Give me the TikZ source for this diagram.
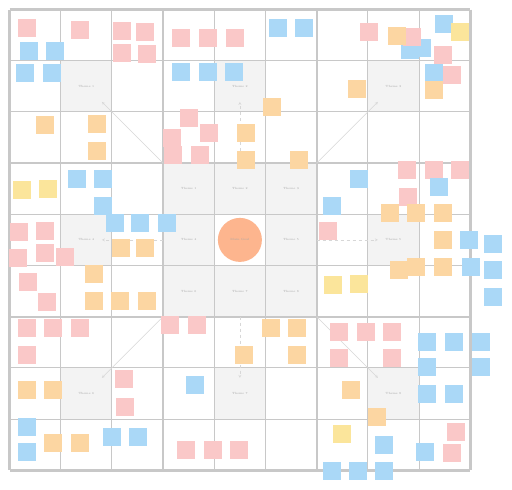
\documentclass[tikz,border=0pt]{standalone}
\usetikzlibrary{arrows.meta}
\definecolor{pinkN}{RGB}{250,200,200}
\definecolor{blueN}{RGB}{170,216,247}
\definecolor{orangeN}{RGB}{252,214,162}
\definecolor{yellowN}{RGB}{251,229,155}
\definecolor{circN}{RGB}{253,181,142}
\definecolor{cellgray}{RGB}{243,243,243}
\definecolor{gridline}{RGB}{200,200,200}
\definecolor{linkgray}{RGB}{215,215,215}
\begin{document}
\begin{tikzpicture}[x=1pt,y=-1pt,
  cellbox/.style={minimum size=51.2pt,inner sep=0pt,outer sep=0pt},
  note/.style={minimum size=17.5pt,inner sep=0pt,outer sep=0pt,fill=#1},
  thingrid/.style={draw=gridline,line width=1.1pt},
  thickgrid/.style={draw=gridline,line width=2.4pt},
  link/.style={draw=linkgray,line width=0.5pt,-{Stealth[length=3pt,width=3pt,open]}},
  lbl/.style={font=\fontsize{3}{4}\selectfont,text=gray!70}]
\useasboundingbox (0,0) rectangle (512,490);
\fill[white] (0,0) rectangle (512,490);
% cells
\foreach \r in {0,...,8}{\foreach \c in {0,...,8}{
  \node[cellbox] (c\r\c) at ({9.5+51.2*(\c+0.5)},{9.5+51.2*(\r+0.5)}) {};
}}
\foreach \r/\c in {1/1,1/4,1/7,4/1,4/7,7/1,7/4,7/7,3/3,3/4,3/5,4/3,4/5,5/3,5/4,5/5}
  \fill[cellgray] (c\r\c.north west) rectangle (c\r\c.south east);
% grid lines
\foreach \i in {1,2,4,5,7,8}{
  \draw[thingrid] ({9.5+51.2*\i},9.5) -- ({9.5+51.2*\i},470.3);
  \draw[thingrid] (9.5,{9.5+51.2*\i}) -- (470.3,{9.5+51.2*\i});
}
\foreach \i in {0,3,6,9}{
  \draw[thickgrid] ({9.5+51.2*\i},9.5) -- ({9.5+51.2*\i},470.3);
  \draw[thickgrid] (9.5,{9.5+51.2*\i}) -- (470.3,{9.5+51.2*\i});
}
% labels
\foreach \r/\c/\t in {1/1/Theme 1,1/4/Theme 2,1/7/Theme 3,4/1/Theme 4,4/7/Theme 5,7/1/Theme 6,7/4/Theme 7,7/7/Theme 8,
  3/3/Theme 1,3/4/Theme 2,3/5/Theme 3,4/3/Theme 4,4/5/Theme 5,5/3/Theme 6,5/4/Theme 7,5/5/Theme 8}
  \node[lbl] (t\r\c) at (c\r\c) {\t};
% central circle
\node[circle,fill=circN,minimum size=44pt,inner sep=0pt,lbl] (goal) at (c44) {Main Goal};
% connectors
\draw[link] (c33.north west) -- ([xshift=-10pt,yshift=10pt]c11.south east);
\draw[link,dashed] (c34.north) -- ([yshift=10pt]c14.south);
\draw[link] (c35.north east) -- ([xshift=10pt,yshift=10pt]c17.south west);
\draw[link,dashed] (c43.west) -- ([xshift=-10pt]c41.east);
\draw[link,dashed] (c45.east) -- ([xshift=10pt]c47.west);
\draw[link] (c53.south west) -- ([xshift=-10pt,yshift=-10pt]c71.north east);
\draw[link,dashed] (c54.south) -- ([yshift=-10pt]c74.north);
\draw[link] (c55.south east) -- ([xshift=10pt,yshift=-10pt]c77.north west);
% sticky notes
\foreach \x/\y [count=\k] in {27/28,80/30,122/31,145/32,122/53,147/54,369/32,181/38,208/38,235/38,189/118,172/138,209/133,173/155,200/155,19/232,45/231,18/258,45/253,65/257,28/282,47/302,407/170,434/170,460/170,408/197,328/231,27/328,53/328,80/328,27/355,124/379,125/407,170/325,197/325,186/450,213/450,239/450,339/332,366/332,392/332,339/358,392/358,456/432,452/453}
  \node[note=pinkN] (p\k) at (\x,\y) {};
\foreach \x/\y [count=\k] in {29/51,55/51,25/73,52/73,278/28,304/28,181/72,208/72,234/72,444/24,410/50,422/48,434/73,77/179,103/179,103/206,115/223,140/223,167/223,359/179,439/187,332/206,469/240,493/244,471/267,493/270,493/297,27/427,27/452,112/437,138/437,195/385,427/342,454/342,481/342,427/367,481/367,427/394,454/394,384/445,425/452,332/471,358/471,384/471}
  \node[note=blueN] (b\k) at (\x,\y) {};
\node[note=pinkN] (p99) at (412,37) {};
\node[note=pinkN] (p98) at (443,55) {};
\node[note=pinkN] (p97) at (452,75) {};
\foreach \x/\y [count=\k] in {45/125,97/124,97/151,272/107,246/133,246/160,299/160,397/36,357/89,434/90,121/248,145/248,94/274,94/301,120/301,147/301,390/213,416/213,443/213,443/240,399/270,416/267,443/267,27/390,53/390,53/443,80/443,271/328,297/328,244/355,297/355,351/390,377/417}
  \node[note=orangeN] (o\k) at (\x,\y) {};
\foreach \x/\y [count=\k] in {460/32,22/190,48/189,333/285,359/284,342/434}
  \node[note=yellowN] (y\k) at (\x,\y) {};
\end{tikzpicture}
\end{document}
